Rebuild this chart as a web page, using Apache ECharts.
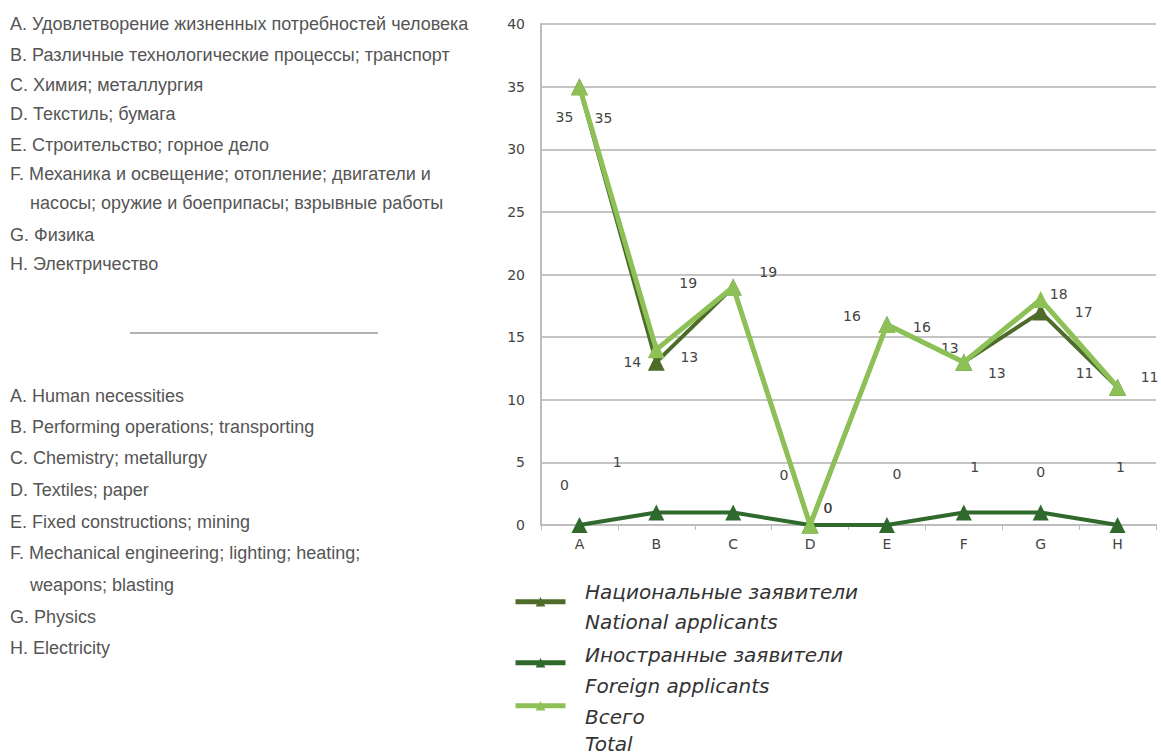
<!DOCTYPE html>
<html>
<head>
<meta charset="utf-8">
<script src="https://cdn.jsdelivr.net/npm/echarts@6/dist/echarts.min.js"></script>
<style>
html,body{margin:0;padding:0;background:#fff;}
#c{width:1161px;height:756px;}
</style>
</head>
<body>
<div id="c"></div>
<script>
// ---- data ----
const categories = ['A','B','C','D','E','F','G','H'];
const national = [35, 13, 19, 0, 16, 13, 17, 11];
const foreign = [0, 1, 1, 0, 0, 1, 1, 0];
const total = [35, 14, 19, 0, 16, 13, 18, 11];
const foreignLabels = ['0','1','','0','0','1','0','1'];
const yTicks = [0, 5, 10, 15, 20, 25, 30, 35, 40];
const seriesNames = ['Национальные заявители\nNational applicants', 'Иностранные заявители\nForeign applicants', 'Всего\nTotal'];
const ruLegend = [
  'A. Удовлетворение жизненных потребностей человека',
  'B. Различные технологические процессы; транспорт',
  'C. Химия; металлургия',
  'D. Текстиль; бумага',
  'E. Строительство; горное дело',
  'F. Механика и освещение; отопление; двигатели и',
  '    насосы; оружие и боеприпасы; взрывные работы',
  'G. Физика',
  'H. Электричество'
];
const enLegend = [
  'A. Human necessities',
  'B. Performing operations; transporting',
  'C. Chemistry; metallurgy',
  'D. Textiles; paper',
  'E. Fixed constructions; mining',
  'F. Mechanical engineering; lighting; heating;',
  '    weapons; blasting',
  'G. Physics',
  'H. Electricity'
];

// ---- label layout (offsets in px) ----
const nationalOffsets = [[-15,30],[33,-5],[35,-15],[18,-17],[-35,-9],[-14,-14],[43,0],[-33,-14]];
const totalOffsets = [[24,31],[-24,12],[-45,-4],[18,-17],[35,2],[33,11],[18,-6],[32,-10]];
const foreignOffsets = [[-15,-40],[-39,-50],[0,0],[-26,-50],[10,-51],[11,-45],[0,-40],[3,-58]];
// legend layout: icon tops and text line centres
const legendIconTops = [597, 658, 701];
const legendTextY = [[592, 622], [655, 686], [717, 744]];

const labelFont = {fontFamily:'DejaVu Sans', fontSize:14, color:'#444'};

function withLabels(values, offsets, texts) {
  return values.map((v, i) => ({
    value: v,
    label: {
      show: texts ? texts[i] !== '' : true,
      position: 'inside',
      offset: offsets[i],
      formatter: texts ? texts[i] : String(v),
      ...labelFont
    }
  }));
}

const textFont = '18px "Liberation Sans", Arial, sans-serif';
const legendFont = 'italic 20px "DejaVu Sans", sans-serif';
const graphics = [];
const ruY = [24,55,85,114,145,174,203,235,264];
const enY = [396,427,458,490,522,553,585,617,648];
ruLegend.forEach((t, i) => {
  graphics.push({type:'text', style:{text:t, x:10, y:ruY[i], fill:'#555', font:textFont, verticalAlign:'middle'}});
});
enLegend.forEach((t, i) => {
  graphics.push({type:'text', style:{text:t, x:10, y:enY[i], fill:'#555', font:textFont, verticalAlign:'middle'}});
});
graphics.push({type:'line', shape:{x1:130, y1:333, x2:378, y2:333}, style:{stroke:'#666', lineWidth:1}});
seriesNames.forEach((n, i) => {
  n.split('\n').forEach((line, j) => {
    graphics.push({type:'text', style:{text:line, x:585, y:legendTextY[i][j], fill:'#333', font:legendFont, verticalAlign:'middle'}});
  });
});

const legends = seriesNames.map((n, i) => ({
  orient: 'vertical',
  left: 513,
  top: legendIconTops[i],
  padding: 0,
  itemWidth: 50,
  itemHeight: 12,
  data: [n],
  lineStyle: {width: 5},
  formatter: () => '',
  textStyle: {fontSize: 1, lineHeight: 1}
}));

const chart = echarts.init(document.getElementById('c'), null, {renderer:'svg'});
chart.setOption({
  animation: false,
  backgroundColor: '#fff',
  grid: {left: 541, right: 5, top: 24, bottom: 231, containLabel: false},
  xAxis: {
    type: 'category',
    data: categories,
    boundaryGap: true,
    axisLine: {lineStyle: {color: '#bdbdbd', width: 2}},
    axisTick: {show: true, alignWithLabel: false, length: 5, lineStyle: {color: '#bdbdbd', width: 1}},
    axisLabel: {fontFamily: 'DejaVu Sans', fontSize: 14, color: '#444', margin: 12}
  },
  yAxis: {
    type: 'value',
    min: yTicks[0],
    max: yTicks[yTicks.length - 1],
    interval: yTicks[1] - yTicks[0],
    axisLine: {show: true, lineStyle: {color: '#bdbdbd', width: 2}},
    axisTick: {show: false},
    splitLine: {lineStyle: {color: '#c4c4c4', width: 2}},
    axisLabel: {fontFamily: 'DejaVu Sans', fontSize: 14, color: '#444', margin: 16}
  },
  legend: legends,
  graphic: graphics,
  series: [
    {
      name: seriesNames[1], type: 'line', data: withLabels(foreign, foreignOffsets, foreignLabels),
      symbol: 'triangle', symbolSize: 16,
      lineStyle: {color: '#2f6a2c', width: 4},
      itemStyle: {color: '#2f6a2c'}, z: 2
    },
    {
      name: seriesNames[0], type: 'line', data: withLabels(national, nationalOffsets),
      symbol: 'triangle', symbolSize: 17,
      lineStyle: {color: '#4e6b2a', width: 4},
      itemStyle: {color: '#4e6b2a'}, z: 3
    },
    {
      name: seriesNames[2], type: 'line', data: withLabels(total, totalOffsets),
      symbol: 'triangle', symbolSize: 17,
      lineStyle: {color: '#8dc157', width: 5},
      itemStyle: {color: '#8dc157'}, z: 4
    }
  ]
});
</script>
</body>
</html>
